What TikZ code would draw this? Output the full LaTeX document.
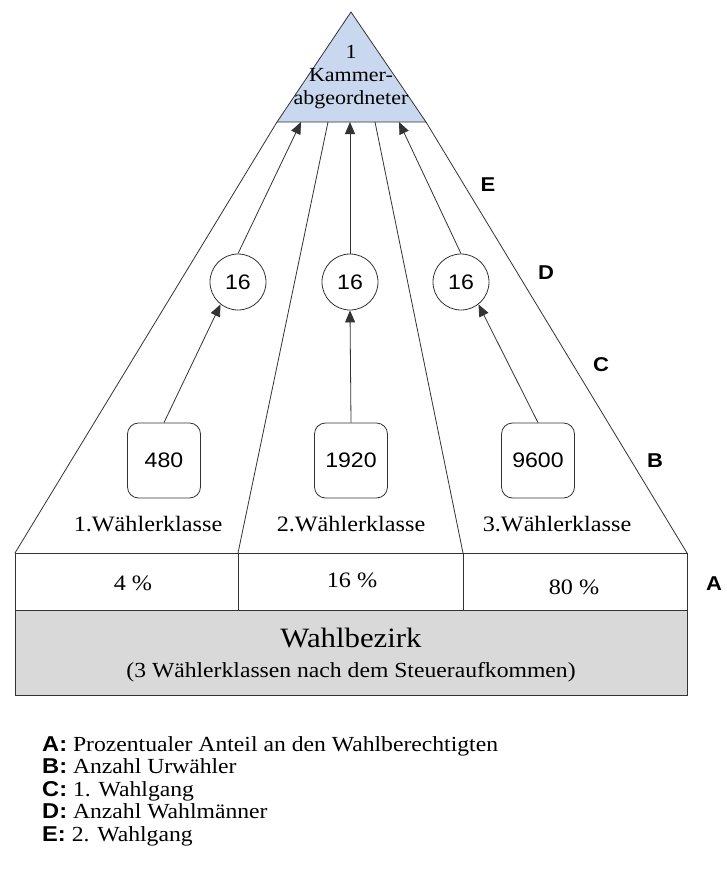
\documentclass[tikz,border=0pt]{standalone}
\usepackage{fontspec}
\setmainfont[FakeStretch=1.1]{Liberation Serif}
\setsansfont[FakeStretch=1.1]{Liberation Sans}
\usetikzlibrary{arrows.meta}
\definecolor{trifill}{HTML}{C9D7EF}
\definecolor{boxgray}{HTML}{D9D9D9}
\definecolor{lncol}{HTML}{333333}
\newcommand{\fs}[1]{\fontsize{#1}{#1}\selectfont}
\tikzset{
  ln/.style={line width=0.8pt, draw=lncol},
  arr/.style={ln, -{Triangle[length=12pt,width=10pt]}},
  circ/.style={circle, ln, minimum size=56pt, inner sep=0pt, font=\sffamily\fs{21}},
  numbox/.style={ln, rounded corners=11pt, minimum width=73pt, minimum height=75pt, inner sep=0pt, font=\sffamily\fs{21}},
  lab/.style={font=\sffamily\bfseries\fs{20}, inner sep=0pt},
  cls/.style={font=\fs{22}, inner sep=0pt},
  pct/.style={font=\fs{22}, inner sep=0pt},
  leg/.style={font=\fs{21.5}, anchor=base west, inner sep=0pt},
}
\begin{document}
\begin{tikzpicture}[x=1pt,y=-1pt]
\useasboundingbox (0,0) rectangle (726,870);
\fill[white] (0,0) rectangle (726,870);

% triangle
\coordinate (apex) at (351,12);
\coordinate (tl) at (277,122);
\coordinate (tr) at (426,122);
\draw[ln, fill=trifill] (apex) -- (tl) -- (tr) -- cycle;
\node[font=\fs{20}, align=center, inner sep=0pt] (top) at (351,77) {1\\[3pt]Kammer-\\[3pt]abgeordneter};

% base points on triangle
\coordinate (p1) at (328,122);
\coordinate (p2) at (375,122);
\coordinate (e1) at (301,122);
\coordinate (e2) at (350,122);
\coordinate (e3) at (399,122);

% table corners
\coordinate (q0) at (15,553);
\coordinate (q1) at (238,553);
\coordinate (q2) at (463,553);
\coordinate (q3) at (687,553);

% fan lines
\draw[ln] (tl) -- (q0);
\draw[ln] (p1) -- (q1);
\draw[ln] (p2) -- (q2);
\draw[ln] (tr) -- (q3);

% circles
\node[circ] (c1) at (238,282) {16};
\node[circ] (c2) at (350,282) {16};
\node[circ] (c3) at (461,282) {16};

% boxes
\node[numbox] (b1) at (164,460.5) {480};
\node[numbox] (b2) at (351,460.5) {1920};
\node[numbox] (b3) at (538,460.5) {9600};

% arrows
\draw[arr] (b1.north) -- (c1.232);
\draw[arr] (b2.north) -- (c2.south);
\draw[arr] (b3.north) -- (c3.308);
\draw[arr] (c1.north) -- (e1);
\draw[arr] (c2.north) -- (e2);
\draw[arr] (c3.north) -- (e3);

% class labels
\node[cls] (k1) at (148,524) {1.Wählerklasse};
\node[cls] (k2) at (351,524) {2.Wählerklasse};
\node[cls] (k3) at (557,524) {3.Wählerklasse};

% table row
\draw[ln] (q0) rectangle (687,610);
\draw[ln] (q1) -- (238,610);
\draw[ln] (q2) -- (463,610);
\node[pct] (r1) at (133,583) {4 \%};
\node[pct] (r2) at (352,580) {16 \%};
\node[pct] (r3) at (574,587) {80 \%};

% Wahlbezirk
\draw[ln, fill=boxgray] (15,610) rectangle (687,695);
\node[font=\fs{28}, inner sep=0pt] (wb) at (351,638) {Wahlbezirk};
\node[font=\fs{21.5}, inner sep=0pt] (wbs) at (351,672) {(3 Wählerklassen nach dem Steueraufkommen)};

% side labels
\node[lab] (lE) at (488,185) {E};
\node[lab] (lD) at (546,273) {D};
\node[lab] (lC) at (601,365) {C};
\node[lab] (lB) at (655,461) {B};
\node[lab] (lA) at (714,584) {A};

% legend
\node[leg] (gA) at (42,751) {\textsf{\textbf{A:}} Prozentualer Anteil an den Wahlberechtigten};
\node[leg] (gB) at (42,773.5) {\textsf{\textbf{B:}} Anzahl Urwähler};
\node[leg] (gC) at (42,796) {\textsf{\textbf{C:}} 1. Wahlgang};
\node[leg] (gD) at (42,818.5) {\textsf{\textbf{D:}} Anzahl Wahlmänner};
\node[leg] (gE) at (42,841) {\textsf{\textbf{E:}} 2. Wahlgang};
\end{tikzpicture}
\end{document}
